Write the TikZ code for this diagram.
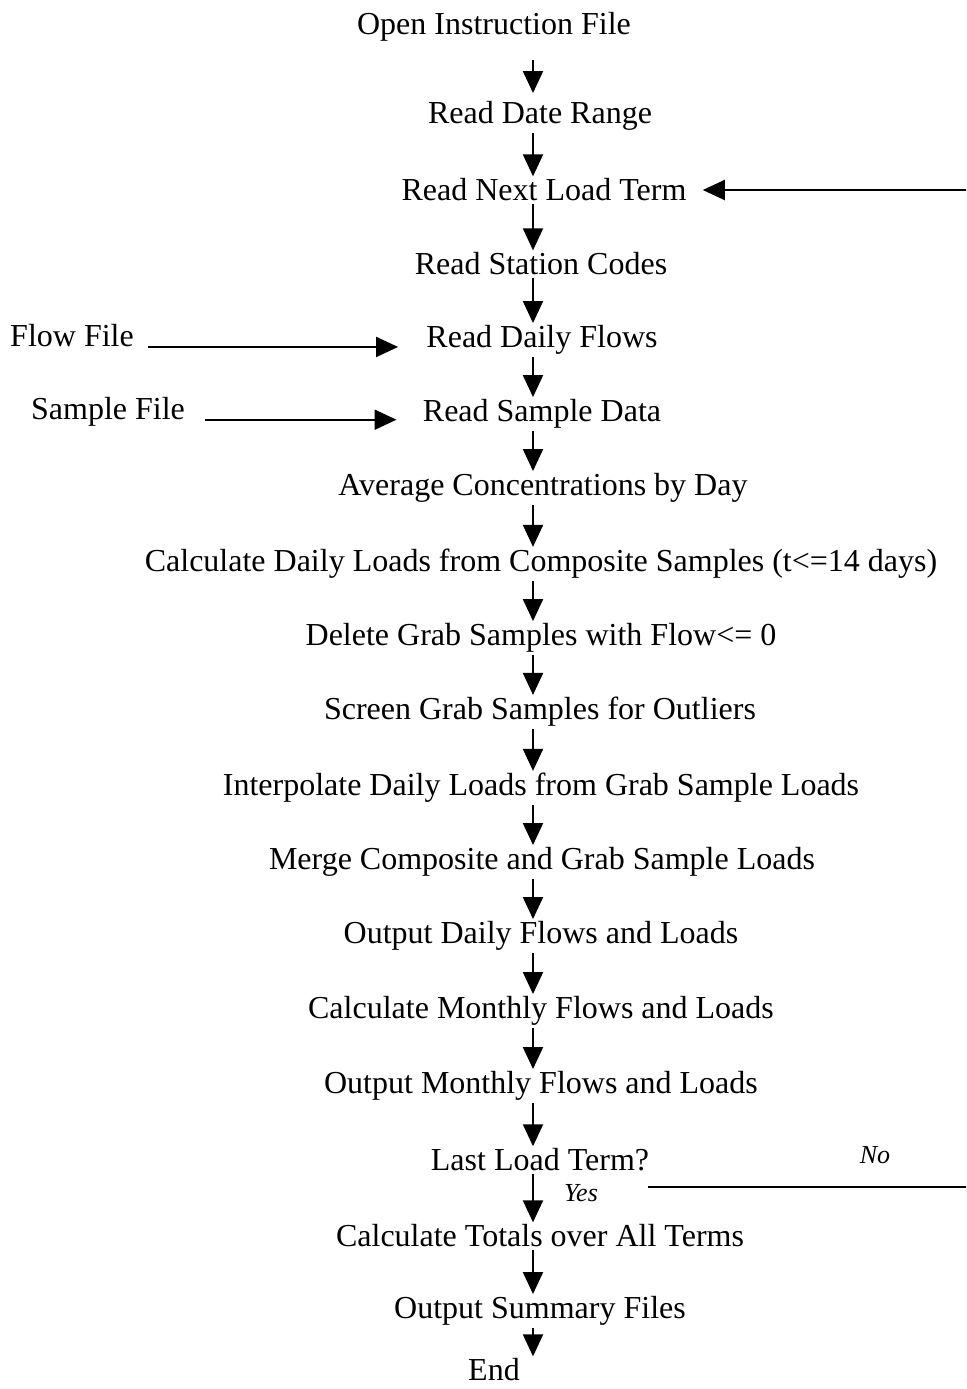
\documentclass[tikz,border=0pt]{standalone}
\usepackage{fontspec}
\setmainfont{Liberation Serif}
\usetikzlibrary{arrows.meta, positioning}

\tikzset{
  stepnode/.style={inner sep=1pt, yshift=-1.5pt, font=\fontsize{16}{19}\selectfont},
  answer/.style={inner sep=1pt, font=\fontsize{13}{15}\selectfont\itshape},
  flowarrow/.style={-{Triangle[length=11pt, width=10pt]}, line width=1pt},
  flowline/.style={line width=1pt}
}

\begin{document}
\begin{tikzpicture}[x=0.5pt, y=-0.5pt]
\useasboundingbox (0, 0) rectangle (966, 1389);
\clip (0, 0) rectangle (966, 1389);
\node[stepnode] (N0) at (494, 24) {Open Instruction File};
\node[stepnode] (N1) at (540, 113) {Read Date Range};
\node[stepnode] (N2) at (544, 187) {Read Next Load Term};
\node[stepnode] (N3) at (541, 261) {Read Station Codes};
\node[stepnode] (N4) at (542, 337) {Read Daily Flows};
\node[stepnode] (N5) at (542, 411) {Read Sample Data};
\node[stepnode] (N6) at (543, 485) {Average Concentrations by Day};
\node[stepnode] (N7) at (541, 561) {Calculate Daily Loads from Composite Samples (t<=14 days)};
\node[stepnode] (N8) at (541, 635) {Delete Grab Samples with Flow<= 0};
\node[stepnode] (N9) at (540, 709) {Screen Grab Samples for Outliers};
\node[stepnode] (N10) at (541, 785) {Interpolate Daily Loads from Grab Sample Loads};
\node[stepnode] (N11) at (542, 859) {Merge Composite and Grab Sample Loads};
\node[stepnode] (N12) at (541, 933) {Output Daily Flows and Loads};
\node[stepnode] (N13) at (541, 1008) {Calculate Monthly Flows and Loads};
\node[stepnode] (N14) at (541, 1083) {Output Monthly Flows and Loads};
\node[stepnode] (N15) at (540, 1157) {Last Load Term?};
\node[stepnode] (N16) at (540, 1233) {Calculate Totals over All Terms};
\node[stepnode] (N17) at (540, 1308) {Output Summary Files};
\node[stepnode] (N18) at (494, 1367) {End};
% input files
\node[stepnode] (F1) at (72, 333) {Flow File};
\node[stepnode] (F2) at (108, 409) {Sample File};
% loop answers
\node[answer] (No) at (875, 1155) {No};
\node[answer] (Yes) at (581, 1193) {Yes};
\coordinate (AX) at (533, 0);
\coordinate (NoStart) at (648, 1187);
\coordinate (LoopB) at (990, 1187);

\draw[flowarrow, shorten <=8pt, shorten >=3pt] (N0.south -| AX) -- (N1.north -| AX);
\draw[flowarrow] (N1.south -| AX) -- (N2.north -| AX);
\draw[flowarrow] (N2.south -| AX) -- (N3.north -| AX);
\draw[flowarrow] (N3.south -| AX) -- (N4.north -| AX);
\draw[flowarrow] (N4.south -| AX) -- (N5.north -| AX);
\draw[flowarrow] (N5.south -| AX) -- (N6.north -| AX);
\draw[flowarrow] (N6.south -| AX) -- (N7.north -| AX);
\draw[flowarrow] (N7.south -| AX) -- (N8.north -| AX);
\draw[flowarrow] (N8.south -| AX) -- (N9.north -| AX);
\draw[flowarrow] (N9.south -| AX) -- (N10.north -| AX);
\draw[flowarrow] (N10.south -| AX) -- (N11.north -| AX);
\draw[flowarrow] (N11.south -| AX) -- (N12.north -| AX);
\draw[flowarrow] (N12.south -| AX) -- (N13.north -| AX);
\draw[flowarrow] (N13.south -| AX) -- (N14.north -| AX);
\draw[flowarrow] (N14.south -| AX) -- (N15.north -| AX);
\draw[flowarrow] (N15.south -| AX) -- (N16.north -| AX);
\draw[flowarrow] (N16.south -| AX) -- (N17.north -| AX);
\draw[flowarrow] (N17.south -| AX) -- (N18.north -| AX);
\draw[flowarrow, shorten <=6pt, shorten >=13pt] (F1.base east) -- (F1.base east -| N4.west);
\draw[flowarrow, shorten <=9pt, shorten >=12pt] (F2.base east) -- (F2.base east -| N5.west);
\draw[flowarrow, shorten >=7pt] (NoStart) -- (LoopB) |- (N2.east);

\end{tikzpicture}
\end{document}
